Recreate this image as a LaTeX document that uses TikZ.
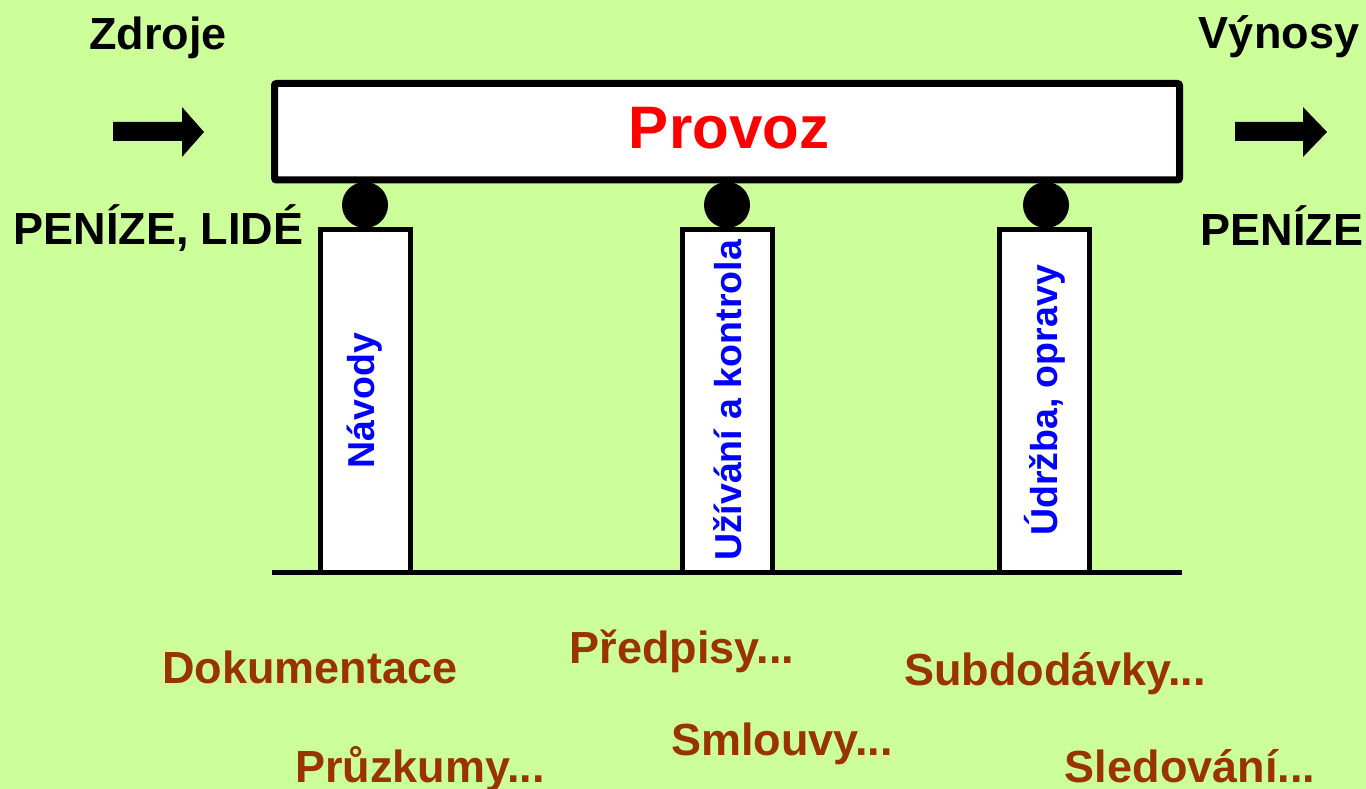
\documentclass[tikz,border=0pt]{standalone}
\usepackage{fontspec}
\setmainfont{Liberation Sans}
\definecolor{bgc}{HTML}{CCFF99}
\definecolor{brownc}{HTML}{993300}
\definecolor{bluec}{HTML}{0000FF}
\definecolor{redc}{HTML}{FF0000}
\begin{document}
\begin{tikzpicture}[x=1pt,y=-1pt,
  lbl/.style={inner sep=0pt,anchor=base,font=\fontsize{45}{50}\selectfont\bfseries},
  brn/.style={lbl,text=brownc},
  pillar/.style={draw=black,line width=5pt,fill=white,rectangle,minimum width=90pt,minimum height=343pt,inner sep=0pt,outer sep=0pt},
  pillartext/.style={inner sep=0pt,rotate=90,text=bluec,font=\fontsize{37.5}{40}\selectfont\bfseries},
  ball/.style={circle,fill=black,minimum size=46pt,inner sep=0pt,outer sep=0pt},
  bigarrow/.style={fill=black}]
\fill[bgc] (0,0) rectangle (1366,789);
\useasboundingbox (0,0) rectangle (1366,789);
% top box
\node[draw=black,line width=7pt,fill=white,rounded corners=2pt,minimum width=905pt,minimum height=96.5pt,inner sep=0pt,outer sep=0pt] (provoz) at (727,131.75) {};
\node[inner sep=0pt,anchor=base,text=redc,font=\fontsize{60}{62}\selectfont\bfseries] (provoztext) at (729,149) {Provoz};
% balls
\node[ball] (b1) at (365,205) {};
\node[ball] (b2) at (727,205) {};
\node[ball] (b3) at (1046,205) {};
% pillars
\node[pillar] (p1) at (365,400.5) {};
\node[pillar] (p2) at (727.5,400.5) {};
\node[pillar] (p3) at (1044.5,400.5) {};
\node[pillartext] (t1) at (p1.center) {Návody};
\node[pillartext] (t2) at (p2.center) {Užívání a kontrola};
\node[pillartext] (t3) at (p3.center) {Údržba, opravy};
% ground
\coordinate (gl) at (272,572);
\coordinate (gr) at (1182,572);
\draw[line width=5pt] (gl) -- (gr);
% arrows
\fill[bigarrow] (113,122) -- (182,122) -- (182,107) -- (204,132) -- (182,157) -- (182,141) -- (113,141) -- cycle;
\fill[bigarrow] (1235,122) -- (1303,122) -- (1303,107) -- (1327,132) -- (1303,157) -- (1303,141) -- (1235,141) -- cycle;
% labels
\node[lbl] (zdroje) at (158,50) {Zdroje};
\node[lbl] (penlid) at (158.5,244) {PENÍZE, LIDÉ};
\node[lbl] (vynosy) at (1279,49) {Výnosy};
\node[lbl] (penize) at (1282,245) {PENÍZE};
\node[brn] (dok) at (310,683) {Dokumentace};
\node[brn] (pruz) at (420,782) {Průzkumy...};
\node[brn] (pred) at (682,663) {Předpisy...};
\node[brn] (smlo) at (782,755) {Smlouvy...};
\node[brn] (subd) at (1055,685) {Subdodávky...};
\node[brn] (sled) at (1190,782) {Sledování...};
\end{tikzpicture}
\end{document}
